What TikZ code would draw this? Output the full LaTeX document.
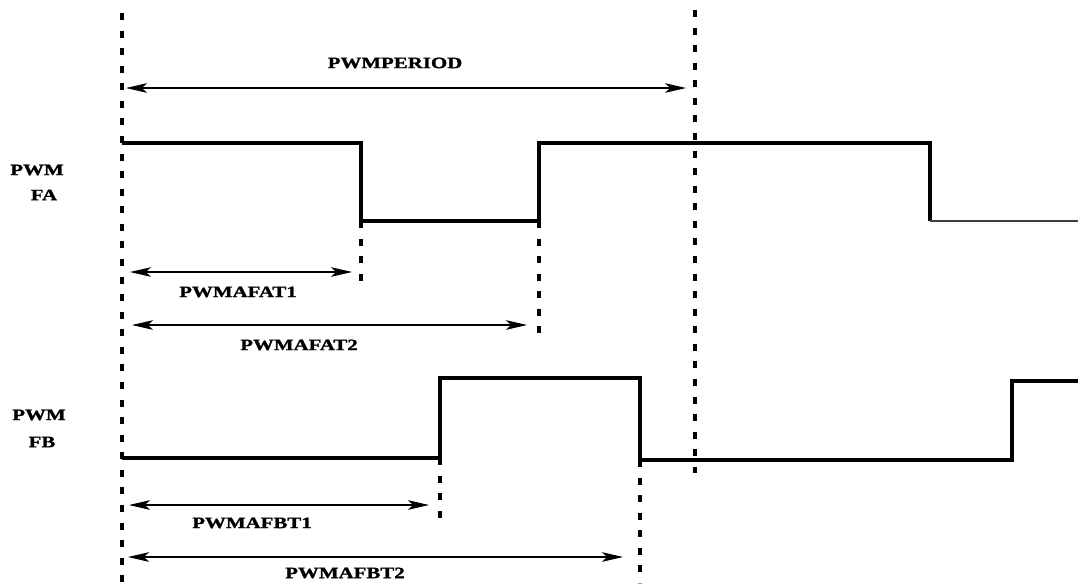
\documentclass[tikz,border=0pt]{standalone}
\usepackage{fontspec}
\newfontfamily\lblfont[FakeStretch=1.32, FakeBold=1.5]{Liberation Serif Bold}
\usetikzlibrary{arrows.meta}
\usetikzlibrary{positioning}

\tikzset{
  guide/.style={line width=2.2pt, dash pattern=on 4pt off 6pt},
  wave/.style={line width=1.8pt},
  dimarrow/.style={line width=0.6pt,
    {Stealth[length=12pt,width=5.5pt,inset=3pt]}-{Stealth[length=12pt,width=5.5pt,inset=3pt]}},
  lbl/.style={font=\lblfont\fontsize{9}{10}\selectfont, inner sep=0pt},
}

\begin{document}
\begin{tikzpicture}[x=0.02cm, y=-0.02cm]
    \useasboundingbox (0,0) rectangle (1078,583);
    % guide lines
    \draw[guide] (122,13) -- (122,583);
    \draw[guide] (695,10) -- (695,473);
    \draw[guide] (361,221) -- (361,287);
    \draw[guide] (539,221) -- (539,340);
    \draw[guide] (440,458) -- (440,522);
    \draw[guide] (640,460) -- (640,583);
    % waveform FA
    \draw[wave] (122,143) -- (361,143) -- (361,221) -- (539,221) -- (539,143)
      -- (930,143) -- (930,221);
    \draw[line width=1pt, black!75] (930,221) -- (1078,221);
    % waveform FB
    \draw[wave] (122,458) -- (440,458) -- (440,378) -- (640,378) -- (640,460)
      -- (1012,460) -- (1012,381) -- (1078,381);
    % time spans
    \coordinate (perA) at (126,88);  \coordinate (perB) at (686,88);
    \coordinate (at1A) at (130,272); \coordinate (at1B) at (352,272);
    \coordinate (at2A) at (132,325); \coordinate (at2B) at (527,325);
    \coordinate (bt1A) at (129,505); \coordinate (bt1B) at (429,505);
    \coordinate (bt2A) at (128,557); \coordinate (bt2B) at (623,557);
    \draw[dimarrow] (perA) -- (perB);
    \draw[dimarrow] (at1A) -- (at1B);
    \draw[dimarrow] (at2A) -- (at2B);
    \draw[dimarrow] (bt1A) -- (bt1B);
    \draw[dimarrow] (bt2A) -- (bt2B);
    % labels
    \node[lbl] (period) at (395,63) {PWMPERIOD};
    \node[lbl] (faA) at (37,170) {PWM};
    \node[lbl] (faB) at (44,195) {FA};
    \node[lbl] (fbA) at (39,415) {PWM};
    \node[lbl] (fbB) at (42,442) {FB};
    \node[lbl] (at1) at (238,292) {PWMAFAT1};
    \node[lbl] (at2) at (299,345) {PWMAFAT2};
    \node[lbl] (bt1) at (252,523) {PWMAFBT1};
    \node[lbl] (bt2) at (345,573) {PWMAFBT2};
\end{tikzpicture}
\end{document}
